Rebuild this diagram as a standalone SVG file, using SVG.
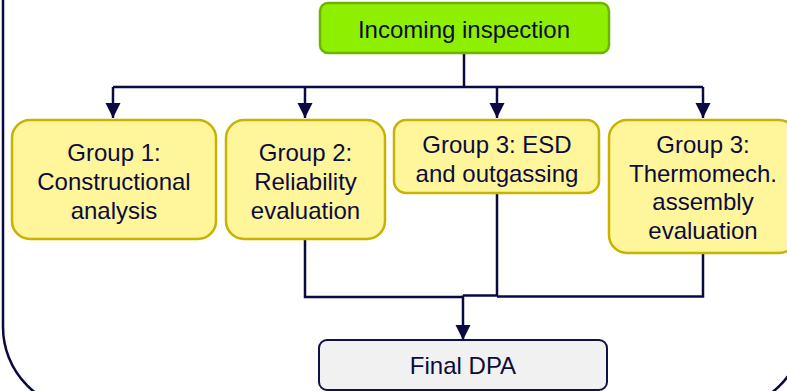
<svg xmlns="http://www.w3.org/2000/svg" width="787" height="391" viewBox="0 0 787 391">
  <style>
    .lbl { font-family: "Liberation Sans", Arial, sans-serif; font-size: 24px; fill: #0c0c3c; text-anchor: middle; }
    .group { fill: #fff59b; stroke: #c8b300; stroke-width: 2.5; }
    .start { fill: #8ef000; stroke: #6cb400; stroke-width: 2.5; }
    .final { fill: #f1f1f1; stroke: #10104a; stroke-width: 2; }
    .wire { fill: none; stroke: #0a0a42; stroke-width: 2.5; }
  </style>
  <defs>
    <marker id="arrow" viewBox="0 0 15 16" refX="15" refY="7.5" markerWidth="15" markerHeight="16" markerUnits="userSpaceOnUse" orient="auto">
      <path d="M0,0 L15,7.5 L0,15 z" fill="#0a0a42"/>
    </marker>
  </defs>

  <rect width="787" height="391" fill="#ffffff"/>

  <!-- outer frame -->
  <rect x="3" y="-100" width="801" height="510" rx="83" ry="83" fill="none" stroke="#0a0a42" stroke-width="2.5"/>

  <g id="connectors">
    <path class="wire" d="M464 53 V87"/>
    <path class="wire" d="M113 87 H703"/>
    <path class="wire" d="M113 87 V118" marker-end="url(#arrow)"/>
    <path class="wire" d="M305 87 V118" marker-end="url(#arrow)"/>
    <path class="wire" d="M497 87 V118" marker-end="url(#arrow)"/>
    <path class="wire" d="M703 87 V118" marker-end="url(#arrow)"/>
    <path class="wire" d="M305 239 V297 H463"/>
    <path class="wire" d="M497 193 V295.5 H463"/>
    <path class="wire" d="M703 253 V296.5 H497"/>
    <path class="wire" d="M463 295.5 V340" marker-end="url(#arrow)"/>
  </g>

  <g id="incoming">
    <rect class="start" x="320" y="3" width="289" height="50" rx="8"/>
    <text class="lbl" x="464" y="38">Incoming inspection</text>
  </g>

  <g id="group1">
    <rect class="group" x="12" y="120" width="204" height="119" rx="18"/>
    <text class="lbl" x="114" y="161">Group 1:</text>
    <text class="lbl" x="114" y="190">Constructional</text>
    <text class="lbl" x="114" y="218.5">analysis</text>
  </g>

  <g id="group2">
    <rect class="group" x="226" y="120" width="159" height="119" rx="18"/>
    <text class="lbl" x="305.5" y="161">Group 2:</text>
    <text class="lbl" x="305.5" y="190">Reliability</text>
    <text class="lbl" x="305.5" y="218.5">evaluation</text>
  </g>

  <g id="group3-esd">
    <rect class="group" x="394" y="120" width="205" height="73" rx="12"/>
    <text class="lbl" x="497" y="153">Group 3: ESD</text>
    <text class="lbl" x="497" y="181.5">and outgassing</text>
  </g>

  <g id="group3-thermo">
    <rect class="group" x="609" y="120" width="188" height="133" rx="18"/>
    <text class="lbl" x="703" y="153">Group 3:</text>
    <text class="lbl" x="703" y="181.5">Thermomech.</text>
    <text class="lbl" x="703" y="210">assembly</text>
    <text class="lbl" x="703" y="238.5">evaluation</text>
  </g>

  <g id="final">
    <rect class="final" x="319" y="340" width="288" height="50" rx="8"/>
    <text class="lbl" x="463" y="374">Final DPA</text>
  </g>
</svg>
